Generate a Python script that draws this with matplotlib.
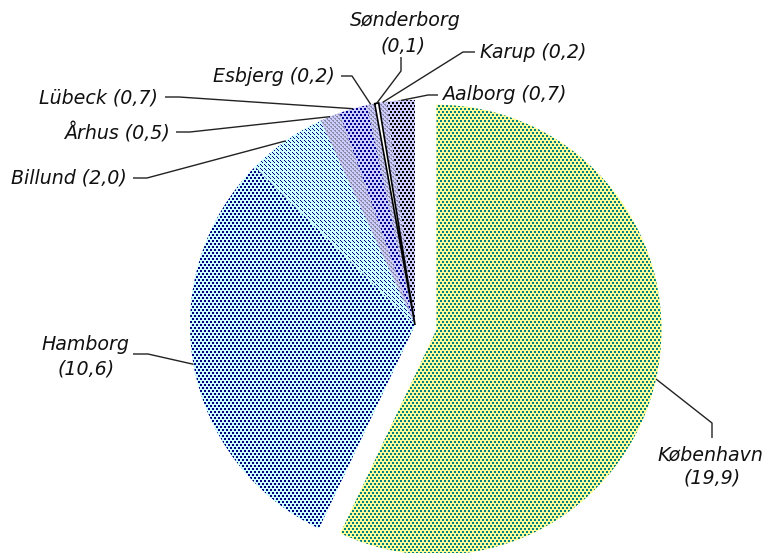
import numpy as np
import matplotlib
matplotlib.use("Agg")
import matplotlib.pyplot as plt
from matplotlib.colors import to_rgba

# ---- data ----
cities = ["København", "Hamborg", "Billund", "Århus", "Lübeck",
          "Esbjerg", "Sønderborg", "Karup", "Aalborg"]
values = [19.9, 10.6, 2.0, 0.5, 0.7, 0.2, 0.1, 0.2, 0.7]
value_labels = ["19,9", "10,6", "2,0", "0,5", "0,7", "0,2", "0,1", "0,2", "0,7"]

W, H = 766, 553
fig = plt.figure(figsize=(W / 100, H / 100), dpi=100)
ax = fig.add_axes([0, 0, 1, 1])


def P(x, y):
    return (x, H - y)


cx, cy = P(415, 325)
explode = [22, 0, 0, 0, 0, 0, 0, 0, 0]
wedges, _ = ax.pie(values, startangle=90, counterclock=False, center=(cx, cy),
                   radius=225, explode=explode, frame=True,
                   wedgeprops=dict(linewidth=0))

# ---- pattern textures ----
conf2 = np.zeros((6, 4), int)
conf2[0:2, 0:2] = 1
conf2[3:5, 2:4] = 1
dots1 = np.zeros((4, 4), int)
dots1[0, 0] = 1
dots1[1, 1] = 1
dots1[2, 2] = 1
dots1[3, 3] = 0
grey2 = np.zeros((4, 4), int)
grey2[0, 0] = grey2[0, 1] = 1
grey2[2, 2] = grey2[2, 3] = 1
grey2[1, 1] = grey2[3, 3] = 1

styles = [
    (conf2, "#FFFF99", "#008080"),   # København
    (conf2, "#CCFFFF", "#000080"),   # Hamborg
    (dots1, "#CCFFFF", "#000080"),   # Billund
    (grey2, "#CCCCFF", "#8C8CA8"),   # Århus
    (conf2, "#CCCCFF", "#000090"),   # Lübeck
    (grey2, "#CCCCFF", "#8C8CA8"),   # Esbjerg
    (None, "#FFFFFF", None),         # Sønderborg
    (grey2, "#CCCCFF", "#8C8CA8"),   # Karup
    (conf2, "#CCCCFF", "#000000"),   # Aalborg
]


def texture(tile, bg, fg):
    th, tw = tile.shape
    mask = np.tile(tile, (H // th + 1, W // tw + 1))[:H, :W].astype(bool)
    img = np.empty((H, W, 4))
    img[:] = to_rgba(bg)
    img[mask] = to_rgba(fg)
    return img


for w, (tile, bg, fg) in zip(wedges, styles):
    w.set_facecolor(bg)
    if tile is None:
        w.set_edgecolor("black")
        w.set_linewidth(1.2)
        w.set_zorder(3)
        continue
    im = ax.imshow(texture(tile, bg, fg), extent=(0, W, 0, H), origin="upper",
                   interpolation="nearest", zorder=2)
    im.set_clip_path(w)

# ---- labels (pixel layout) ----
# each: list of (text, x, y, ha), leader points (from text side)
label_specs = [
    ([("København", 710, 455, "center"), ("(19,9)", 712, 478, "center")],
     [(712, 438), (712, 423)]),
    ([("Hamborg", 85, 345, "center"), ("(10,6)", 86, 369, "center")],
     [(133, 354), (148, 354)]),
    ([("Billund (2,0)", 127, 178, "right")], [(133, 178), (147, 178)]),
    ([("Århus (0,5)", 170, 133, "right")], [(176, 132), (190, 132)]),
    ([("Lübeck (0,7)", 158, 98, "right")], [(165, 97), (179, 97)]),
    ([("Esbjerg (0,2)", 335, 76, "right")], [(341, 76), (352, 76)]),
    ([("Sønderborg", 405, 21, "center"), ("(0,1)", 403, 46, "center")],
     [(401, 57), (401, 71)]),
    ([("Karup (0,2)", 480, 52, "left")], [(475, 52), (463, 52)]),
    ([("Aalborg (0,7)", 442, 95, "left")], [(438, 95), (428, 95)]),
]

for w, (texts, leader) in zip(wedges, label_specs):
    for s, x, y, ha in texts:
        ax.text(*P(x, y), s, ha=ha, va="center", fontsize=13.7,
                fontstyle="italic", family="DejaVu Sans", color="#111111",
                zorder=5)
    tm = np.deg2rad((w.theta1 + w.theta2) / 2)
    axp = w.center[0] + w.r * np.cos(tm)
    ayp = w.center[1] + w.r * np.sin(tm)
    pts = [P(x, y) for x, y in leader] + [(axp, ayp)]
    ax.plot([p[0] for p in pts], [p[1] for p in pts], color="#222222",
            lw=1.0, zorder=4, solid_capstyle="butt")

ax.set_xlim(0, W)
ax.set_ylim(0, H)
ax.set_aspect("equal")
ax.axis("off")

fig.savefig("out.png", dpi=100)
